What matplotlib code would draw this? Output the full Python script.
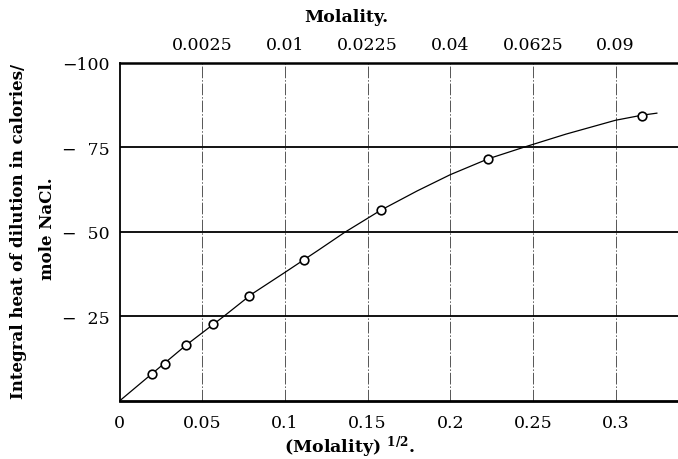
import numpy as np
import matplotlib
matplotlib.use("Agg")
import matplotlib.pyplot as plt

# ---- data ----
sqrt_m_points = [0.0194, 0.0276, 0.0401, 0.0563, 0.0781, 0.1117, 0.1581, 0.2230, 0.3158]
heat_points = [8.0, 10.9, 16.6, 22.6, 31.1, 41.7, 56.5, 71.5, 84.3]

curve_x = [0.0, 0.02, 0.04, 0.063, 0.08, 0.1, 0.12, 0.136, 0.158, 0.18, 0.2, 0.223, 0.2444, 0.27, 0.3, 0.316, 0.325]
curve_y = [0.0, 8.2, 16.4, 25.0, 31.6, 38.0, 44.5, 49.8, 56.4, 62.1, 66.9, 71.6, 75.0, 78.9, 83.0, 84.5, 85.1]

bottom_ticks = [0, 0.05, 0.1, 0.15, 0.2, 0.25, 0.3]
bottom_labels = ["0", "0.05", "0.1", "0.15", "0.2", "0.25", "0.3"]
top_ticks_molality = [0.0025, 0.01, 0.0225, 0.04, 0.0625, 0.09]
top_labels = ["0.0025", "0.01", "0.0225", "0.04", "0.0625", "0.09"]
y_ticks = [25, 50, 75, 100]
y_labels = ["\u2212\u200725", "\u2212\u200750", "\u2212\u200775", "\u2212100"]

plt.rcParams['font.family'] = ['DejaVu Serif']
plt.rcParams['mathtext.fontset'] = 'dejavuserif'

fig = plt.figure(figsize=(6.78, 4.60), dpi=100)
W, H = 678, 460
x0, x1 = 119.7, 678
y_bot, y_top = 401.8, 63.8
ax = fig.add_axes([x0 / W, 1 - y_bot / H, (x1 - x0) / W, (y_bot - y_top) / H])

ax.set_xlim(0, (x1 - x0) / 1652.8)
ax.set_ylim(0, 100)

# grid lines
for t in bottom_ticks[1:]:
    ax.axvline(t, color='#555555', lw=0.7, ls=(0, (12, 2, 1.5, 2)), zorder=1)
for t in y_ticks[:-1]:
    ax.axhline(t, color='black', lw=1.3, zorder=1)

# curve and points
ax.plot(curve_x, curve_y, color='black', lw=0.9, zorder=2)
ax.plot(sqrt_m_points, heat_points, 'o', ms=6.2, mfc='white', mec='black', mew=1.2, zorder=3)

# spines
ax.spines['right'].set_visible(False)
ax.spines['left'].set_linewidth(1.3)
ax.spines['bottom'].set_linewidth(2.0)
ax.spines['top'].set_linewidth(1.8)

# bottom ticks
ax.set_xticks(bottom_ticks)
ax.set_xticklabels(bottom_labels, fontsize=12.5)
ax.tick_params(axis='x', length=0, pad=9.5)
ax.set_yticks(y_ticks)
ax.set_yticklabels(y_labels, fontsize=12.5)
ax.tick_params(axis='y', length=0, pad=7)

ax.set_xlabel(r"(Molality) $^{\mathbf{1/2}}$.", fontsize=12.5, fontweight='bold')
ax.xaxis.set_label_coords((350 - x0) / (x1 - x0), (y_bot - 447) / (y_bot - y_top),
                          transform=ax.transAxes)
ax.xaxis.label.set_va('center')

# top axis (molality)
secax = ax.secondary_xaxis('top', functions=(lambda x: np.sign(x) * x ** 2,
                                             lambda m: np.sqrt(np.abs(m))))
secax.set_xticks(top_ticks_molality)
secax.set_xticklabels(top_labels, fontsize=12.5)
secax.tick_params(axis='x', length=0, pad=7)
secax.spines['top'].set_visible(False)
secax.set_xlabel("Molality.", fontsize=12.5, fontweight='bold')
secax.xaxis.set_label_coords((346 - x0) / (x1 - x0), (y_bot - 18) / (y_bot - y_top),
                             transform=ax.transAxes)
secax.xaxis.label.set_va('center')

# y label (two centred lines)
fig.text(19 / W, 1 - 231 / H, "Integral heat of dilution in calories/",
         rotation=90, ha='center', va='center', fontsize=12, fontweight='bold')
fig.text(47 / W, 1 - 229 / H, "mole NaCl.",
         rotation=90, ha='center', va='center', fontsize=12, fontweight='bold')

fig.savefig("out.png", dpi=100)
